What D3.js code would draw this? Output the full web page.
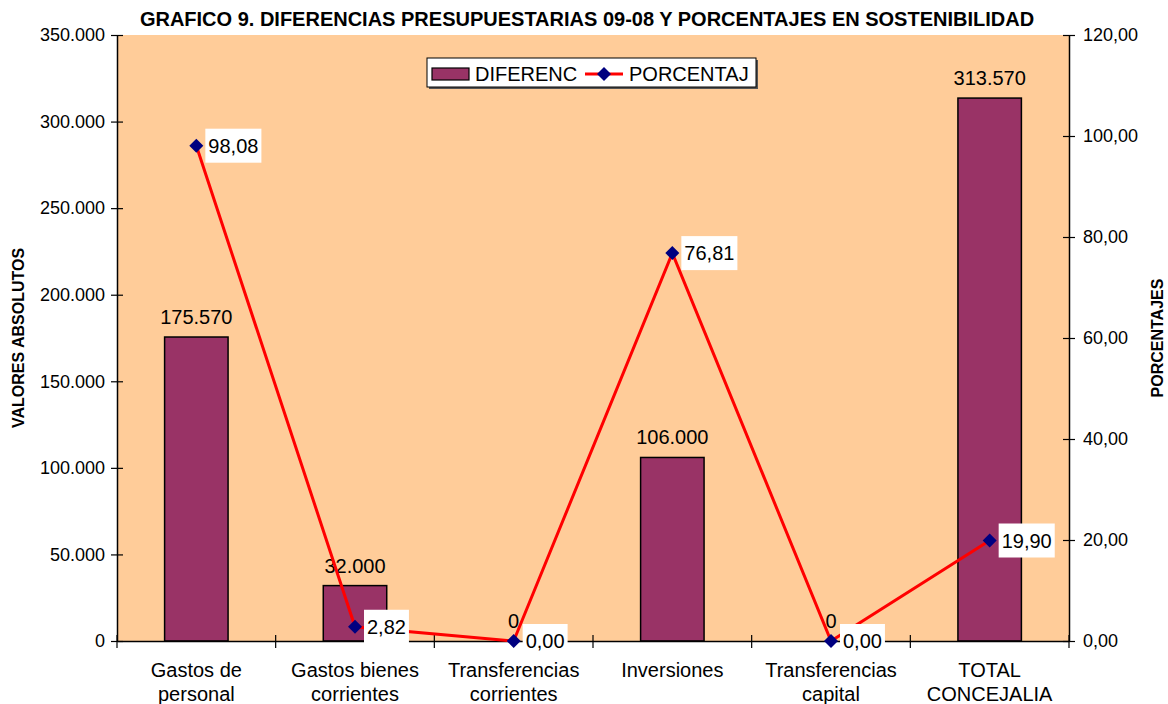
<!DOCTYPE html>
<html>
<head>
<meta charset="utf-8">
<script src="https://cdn.jsdelivr.net/npm/d3@7"></script>
<style>
  body { margin: 0; background: #fff; }
  text { font-family: "Liberation Sans", Arial, sans-serif; fill: #000; }
</style>
</head>
<body>
<script>
// chart data
const categories = [["Gastos de", "personal"], ["Gastos bienes", "corrientes"], ["Transferencias", "corrientes"],
                    ["Inversiones"], ["Transferencias", "capital"], ["TOTAL", "CONCEJALIA"]];
const diferenc = [175570, 32000, 0, 106000, 0, 313570];
const porcentaj = [98.08, 2.82, 0.00, 76.81, 0.00, 19.90];
const leftTicks = [0, 50000, 100000, 150000, 200000, 250000, 300000, 350000];
const rightTicks = [0, 20, 40, 60, 80, 100, 120];

const es = d3.formatLocale({decimal: ",", thousands: ".", grouping: [3], currency: ["", "€"]});
const fmtInt = es.format(",.0f"),
      fmtDec = es.format(",.2f");

const W = 1168, H = 704;
const margin = {top: 35, right: 99, bottom: 63, left: 117};
const width = W - margin.left - margin.right,
      height = H - margin.top - margin.bottom;

const svg = d3.select("body").append("svg")
    .attr("width", W)
    .attr("height", H);

const g = svg.append("g")
    .attr("transform", "translate(" + margin.left + "," + margin.top + ")");

let x = d3.scaleBand().domain(d3.range(categories.length)).range([0, width]).paddingInner(0).paddingOuter(0);
let yL = d3.scaleLinear().domain([0, 350000]).range([height, 0]);
let yR = d3.scaleLinear().domain([0, 120]).range([height, 0]);

// plot area
g.append("rect")
    .attr("width", width)
    .attr("height", height)
    .style("fill", "#FFCC99");

// bars
const barW = x.bandwidth() * 0.4;
g.selectAll(".bar").data(diferenc).enter().append("rect")
    .attr("class", "bar")
    .attr("x", (d, i) => x(i) + (x.bandwidth() - barW) / 2)
    .attr("y", d => yL(d))
    .attr("width", barW)
    .attr("height", d => height - yL(d))
    .style("fill", "#993366")
    .style("stroke", "#000")
    .style("stroke-width", 1.5);

// bar labels
g.selectAll(".blab").data(diferenc).enter().append("text")
    .attr("x", (d, i) => x(i) + x.bandwidth() / 2)
    .attr("y", d => yL(d) - 13)
    .attr("text-anchor", "middle")
    .style("font-size", "20px")
    .text(d => fmtInt(d));

// axes
const axL = g.append("g")
    .call(d3.axisLeft(yL).tickValues(leftTicks).tickFormat(fmtInt).tickSizeInner(6).tickSizeOuter(0).tickPadding(6));
const axR = g.append("g")
    .attr("transform", "translate(" + width + ",0)")
    .call(d3.axisRight(yR).tickValues(rightTicks).tickFormat(fmtDec).tickSizeInner(6).tickSizeOuter(0).tickPadding(9));
const axB = g.append("g")
    .attr("transform", "translate(0," + height + ")")
    .call(d3.axisBottom(x).tickValues([]).tickSizeOuter(0));

[axL, axR].forEach(a => {
  a.select(".domain").style("stroke", "#000").style("stroke-width", 1.5);
  a.selectAll(".tick line").attr("x1", -6).attr("x2", 6).style("stroke-width", 1.2);
  a.selectAll("text").style("font-size", "18px").style("font-family", "Liberation Sans, Arial, sans-serif");
});
axL.selectAll(".tick text").attr("x", -12);
axR.selectAll(".tick text").attr("x", 14);
axB.select(".domain").style("stroke", "#000").style("stroke-width", 1.5);

// category boundary ticks
g.selectAll(".ctick").data(d3.range(categories.length + 1)).enter().append("line")
    .attr("x1", i => i * x.step())
    .attr("x2", i => i * x.step())
    .attr("y1", height - 6)
    .attr("y2", height + 7)
    .style("stroke", "#000")
    .style("stroke-width", 1.2);

// category labels
const cl = g.selectAll(".clab").data(categories).enter().append("text")
    .attr("text-anchor", "middle")
    .attr("transform", (d, i) => "translate(" + (x(i) + x.bandwidth() / 2) + "," + (height + 36) + ")")
    .style("font-size", "20px");
cl.selectAll("tspan").data(d => d).enter().append("tspan")
    .attr("x", 0)
    .attr("dy", (d, i) => i === 0 ? 0 : 24)
    .text(d => d);

// line
const line = d3.line()
    .x((d, i) => x(i) + x.bandwidth() / 2)
    .y(d => yR(d));

g.append("path")
    .datum(porcentaj)
    .attr("d", line)
    .style("fill", "none")
    .style("stroke", "#FF0000")
    .style("stroke-width", 3);

const diamond = "M0,-7L7,0L0,7L-7,0Z";
g.selectAll(".mk").data(porcentaj).enter().append("path")
    .attr("d", diamond)
    .attr("transform", (d, i) => "translate(" + (x(i) + x.bandwidth() / 2) + "," + yR(d) + ")")
    .style("fill", "#000080");

// line labels with white boxes
const pl = g.selectAll(".plab").data(porcentaj).enter().append("g")
    .attr("transform", (d, i) => "translate(" + (x(i) + x.bandwidth() / 2 + 9) + "," + yR(d) + ")");
pl.append("rect").attr("class", "bg");
pl.append("text")
    .attr("x", 3)
    .attr("y", 7)
    .style("font-size", "20px")
    .text(d => fmtDec(d));
pl.each(function() {
  const t = d3.select(this).select("text").node().getComputedTextLength();
  d3.select(this).select("rect")
      .attr("x", 0).attr("y", -17)
      .attr("width", t + 6).attr("height", 34)
      .style("fill", "#fff");
});

// title
svg.append("text")
    .attr("x", 587)
    .attr("y", 26)
    .attr("text-anchor", "middle")
    .style("font-size", "20px")
    .style("font-weight", "bold")
    .text("GRAFICO 9. DIFERENCIAS PRESUPUESTARIAS 09-08 Y PORCENTAJES EN SOSTENIBILIDAD");

// axis titles
svg.append("text")
    .attr("transform", "translate(24," + (margin.top + height / 2) + ") rotate(-90)")
    .attr("text-anchor", "middle")
    .style("font-size", "16px")
    .style("font-weight", "bold")
    .text("VALORES ABSOLUTOS");
svg.append("text")
    .attr("transform", "translate(1163," + (margin.top + height / 2) + ") rotate(-90)")
    .attr("text-anchor", "middle")
    .style("font-size", "16px")
    .style("font-weight", "bold")
    .text("PORCENTAJES");

// legend
const lg = svg.append("g").attr("transform", "translate(427,58)");
lg.append("rect").attr("x", 2).attr("y", 2).attr("width", 329).attr("height", 29).style("fill", "#555");
lg.append("rect").attr("width", 329).attr("height", 29).style("fill", "#fff").style("stroke", "#000");
lg.append("rect").attr("x", 5).attr("y", 10).attr("width", 37).attr("height", 12)
    .style("fill", "#993366").style("stroke", "#000").style("stroke-width", 1.2);
lg.append("text").attr("x", 48).attr("y", 23).style("font-size", "20px").text("DIFERENC");
lg.append("line").attr("x1", 158).attr("x2", 196).attr("y1", 16).attr("y2", 16)
    .style("stroke", "#FF0000").style("stroke-width", 3);
lg.append("path").attr("d", diamond).attr("transform", "translate(177,16)").style("fill", "#000080");
lg.append("text").attr("x", 202).attr("y", 23).style("font-size", "20px").text("PORCENTAJ");
</script>
</body>
</html>
